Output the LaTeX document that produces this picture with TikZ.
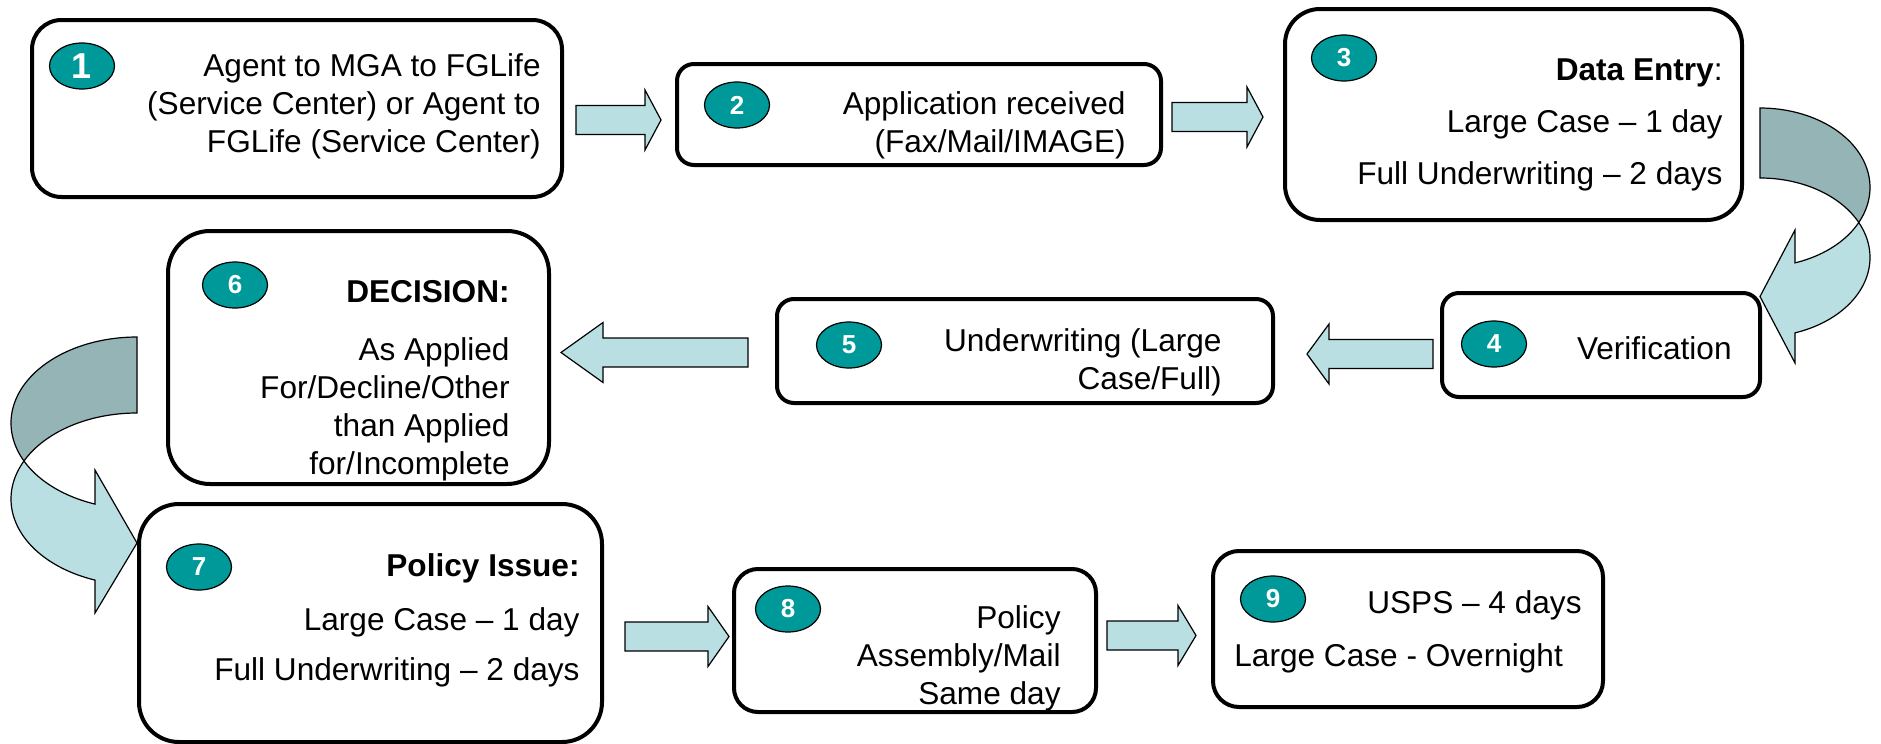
\documentclass[tikz,border=0pt]{standalone}
\usepackage{fontspec}
\setmainfont{Liberation Sans}
\usetikzlibrary{shapes.geometric,calc}

\definecolor{flowlight}{RGB}{185,223,226}
\definecolor{flowdark}{RGB}{149,180,182}
\definecolor{badge}{RGB}{0,153,153}

% straight block arrow from tail coordinate #1 to tip coordinate #2, head length #3
\newcommand\blockarrow[3]{%
  \draw[arrowbody] let \p1=(#1), \p2=(#2), \p3=($(#2)!#3!(#1)$) in
    (\x1,\y1+7.25pt) -- (\x3,\y1+7.25pt) -- (\x3,\y1+15pt) -- (\x2,\y2)
    -- (\x3,\y1-15pt) -- (\x3,\y1-7.25pt) -- (\x1,\y1-7.25pt) -- cycle;}

\begin{document}
\begin{tikzpicture}[x=0.5pt,y=-0.5pt,
  stepbox/.style={draw=black, line width=2pt, fill=white, inner sep=0pt},
  badgenum/.style={ellipse, draw=black, line width=0.6pt, fill=badge,
    minimum width=32.5pt, minimum height=23pt, inner sep=0pt, text=white,
    font=\fontsize{13}{13}\selectfont\bfseries},
  steptext/.style={anchor=east, align=right, inner sep=0pt,
    font=\fontsize{15.8}{19}\selectfont},
  arrowbody/.style={fill=flowlight, draw=black, line width=0.6pt, line join=miter},
  ribbonback/.style={fill=flowdark, draw=black, line width=0.6pt},
  ribbonfront/.style={fill=flowlight, draw=black, line width=0.6pt}]

\useasboundingbox (0,0) rectangle (1881,744);
\fill[white] (0,0) rectangle (1881,744);

% process boxes
\node[stepbox, minimum width=265pt, minimum height=88.5pt, rounded corners=14.75pt] (b1) at (297,108.5) {};
\node[stepbox, minimum width=242pt, minimum height=50.5pt, rounded corners=8.5pt] (b2) at (919,114.5) {};
\node[stepbox, minimum width=228.5pt, minimum height=105.5pt, rounded corners=17.5pt] (b3) at (1513.5,114.5) {};
\node[stepbox, minimum width=159pt, minimum height=52pt, rounded corners=8.5pt] (b4) at (1601,345) {};
\node[stepbox, minimum width=248pt, minimum height=52pt, rounded corners=8.5pt] (b5) at (1025,351) {};
\node[stepbox, minimum width=190.5pt, minimum height=126.5pt, rounded corners=21pt] (b6) at (358.5,357.5) {};
\node[stepbox, minimum width=231.5pt, minimum height=119pt, rounded corners=20pt] (b7) at (370.5,623) {};
\node[stepbox, minimum width=181pt, minimum height=71.5pt, rounded corners=12pt] (b8) at (915,640.5) {};
\node[stepbox, minimum width=195pt, minimum height=78pt, rounded corners=13pt] (b9) at (1408,629) {};

% arrow end points
\coordinate (a12t) at (576,120);   \coordinate (a12h) at (661,120);
\coordinate (a23t) at (1172,117);  \coordinate (a23h) at (1263,117);
\coordinate (a45t) at (1433,354);  \coordinate (a45h) at (1307,354);
\coordinate (a56t) at (748,352.5); \coordinate (a56h) at (561,352.5);
\coordinate (a78t) at (625,636.5); \coordinate (a78h) at (729,636.5);
\coordinate (a89t) at (1107,635.5);\coordinate (a89h) at (1196,635.5);

\blockarrow{a12t}{a12h}{8pt}
\blockarrow{a23t}{a23h}{8pt}
\blockarrow{a45t}{a45h}{11pt}
\blockarrow{a56t}{a56h}{21pt}
\blockarrow{a78t}{a78h}{10.5pt}
\blockarrow{a89t}{a89h}{9pt}

% curved ribbon arrow from step 3 down to step 4
\draw[ribbonback]
  plot[domain=-90:26.12, samples=60, variable=\t] ({1760+110*cos(\t)},{187.5+79.5*sin(\t)})
  -- plot[domain=-26.12:-90, samples=60, variable=\t] ({1760+110*cos(\t)},{257.5+79.5*sin(\t)})
  -- cycle;
\coordinate (r1tip) at (1760,296.5);
\draw[ribbonfront]
  plot[domain=-26.12:71.45, samples=60, variable=\t] ({1760+110*cos(\t)},{257.5+79.5*sin(\t)})
  -- (1795,363) -- (r1tip) -- (1795,230)
  -- plot[domain=71.45:26.12, samples=60, variable=\t] ({1760+110*cos(\t)},{187.5+79.5*sin(\t)})
  -- cycle;

% curved ribbon arrow from step 6 down to step 7
\draw[ribbonback]
  plot[domain=270:153.78, samples=60, variable=\t] ({137+126*cos(\t)},{423+86*sin(\t)})
  -- plot[domain=206.22:270, samples=60, variable=\t] ({137+126*cos(\t)},{499+86*sin(\t)})
  -- cycle;
\coordinate (r2tip) at (137,543);
\draw[ribbonfront]
  plot[domain=206.22:109.47, samples=60, variable=\t] ({137+126*cos(\t)},{499+86*sin(\t)})
  -- (95,613) -- (r2tip) -- (95,470)
  -- plot[domain=109.47:153.78, samples=60, variable=\t] ({137+126*cos(\t)},{423+86*sin(\t)})
  -- cycle;

% numbered badges
\node[badgenum] (n1) at (82,66) {\fontsize{18}{18}\selectfont 1};
\node[badgenum] (n2) at (737,105) {2};
\node[badgenum] (n3) at (1344,58) {3};
\node[badgenum] (n4) at (1494,344) {4};
\node[badgenum] (n5) at (849,345) {5};
\node[badgenum] (n6) at (235,285) {6};
\node[badgenum] (n7) at (199,567) {7};
\node[badgenum] (n8) at (788,609) {8};
\node[badgenum] (n9) at (1273,599) {9};

% step texts
\node[steptext] (t1) at (541,106.5) {Agent to MGA to FGLife\\(Service Center) or Agent to\\FGLife (Service Center)};
\node[steptext] (t2) at (1126,125.5) {Application received\\(Fax/Mail/IMAGE)};
\node[steptext] (t3) at (1723,124.5) {{\bfseries Data Entry}:\\[7pt]Large Case – 1 day\\[7pt]Full Underwriting – 2 days};
\node[steptext] (t4) at (1732,348) {Verification};
\node[steptext] (t5) at (1222,362) {Underwriting (Large\\Case/Full)};
\node[steptext] (t6) at (510,380.5) {{\bfseries DECISION:}\\[10pt]As Applied\\For/Decline/Other\\than Applied\\for/Incomplete};
\node[steptext] (t7) at (580,620.5) {{\bfseries Policy Issue:}\\[8pt]Large Case – 1 day\\[6pt]Full Underwriting – 2 days};
\node[steptext] (t8) at (1061,658.5) {Policy\\Assembly/Mail\\Same day};
\node[steptext] (t9a) at (1582,605) {USPS – 4 days};
\node[steptext, anchor=west] (t9b) at (1234,658) {Large Case - Overnight};

\end{tikzpicture}
\end{document}
